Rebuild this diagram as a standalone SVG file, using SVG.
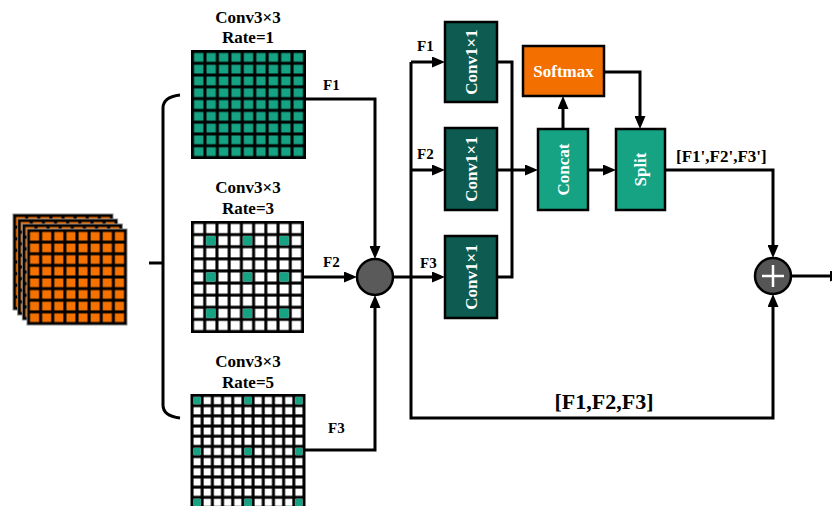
<svg xmlns="http://www.w3.org/2000/svg" width="832" height="506" viewBox="0 0 832 506">
  <style>
    .lbl { font-family: "Liberation Serif", "Times New Roman", serif; font-weight: bold; fill: #000; }
    .wlbl { font-family: "Liberation Serif", "Times New Roman", serif; font-weight: bold; fill: #fff; font-size: 17px; }
    .wire { fill: none; stroke: #000; stroke-width: 3; }
    .arr { marker-end: url(#head); }
    .box { stroke: #000; stroke-width: 2.5; }
    .dark { fill: #0d5b51; }
    .teal { fill: #15a384; }
  </style>
  <defs>
    <marker id="head" markerUnits="userSpaceOnUse" markerWidth="13" markerHeight="11" refX="5" refY="5.5" orient="auto">
      <path d="M0,0 L13,5.5 L0,11 Z" fill="#000"/>
    </marker>
    <!-- cell patterns for the feature grids -->
    <pattern id="pOrange" patternUnits="userSpaceOnUse" x="1.5" y="1.5" width="12.125" height="11.625">
      <rect x="1.5" y="1.5" width="9.125" height="8.625" fill="#f57200"/>
    </pattern>
    <pattern id="pTop" patternUnits="userSpaceOnUse" x="192.5" y="51.5" width="12.444" height="11.778">
      <rect x="1.5" y="1.5" width="9.444" height="8.778" fill="#15a384"/>
    </pattern>
    <pattern id="pMid" patternUnits="userSpaceOnUse" x="192.5" y="222.5" width="12.222" height="12.111">
      <rect x="1.5" y="1.5" width="9.222" height="9.111" fill="#fff"/>
    </pattern>
    <pattern id="pBot" patternUnits="userSpaceOnUse" x="192" y="395.5" width="10.182" height="10.182">
      <rect x="1.5" y="1.5" width="7.182" height="7.182" fill="#fff"/>
    </pattern>
    <g id="layer">
      <rect x="0" y="0" width="100" height="96" fill="#000" stroke="#888" stroke-width="1"/>
      <rect x="1.5" y="1.5" width="97" height="93" fill="url(#pOrange)"/>
    </g>
  </defs>

  <rect width="832" height="506" fill="#fff"/>

  <!-- input feature stack -->
  <g id="input">
    <use href="#layer" x="13" y="214"/>
    <use href="#layer" x="17.7" y="219"/>
    <use href="#layer" x="22.3" y="224"/>
    <use href="#layer" x="27" y="229"/>
  </g>

  <!-- brace splitting into the three branches -->
  <g id="brace">
    <path class="wire" d="M180,95 Q163,97 163,108 V405 Q163,416 180,418"/>
    <path class="wire" d="M149,263 H163"/>
  </g>

  <!-- dilated 3x3 kernels -->
  <g id="conv_rate1">
    <text class="lbl" x="248" y="23" font-size="17" text-anchor="middle">Conv3×3</text>
    <text class="lbl" x="248" y="43" font-size="17" text-anchor="middle">Rate=1</text>
    <rect x="191" y="50" width="115" height="109" fill="#000"/>
    <rect x="192.5" y="51.5" width="112" height="106" fill="url(#pTop)"/>
  </g>

  <g id="conv_rate3">
    <text class="lbl" x="248" y="193" font-size="17" text-anchor="middle">Conv3×3</text>
    <text class="lbl" x="248" y="214" font-size="17" text-anchor="middle">Rate=3</text>
    <rect x="191" y="221" width="113" height="112" fill="#000"/>
    <rect x="192.5" y="222.5" width="110" height="109" fill="url(#pMid)"/>
    <g fill="#15a384">
      <rect x="206.2" y="236.1" width="9.22" height="9.11"/>
      <rect x="242.9" y="236.1" width="9.22" height="9.11"/>
      <rect x="279.6" y="236.1" width="9.22" height="9.11"/>
      <rect x="206.2" y="272.4" width="9.22" height="9.11"/>
      <rect x="242.9" y="272.4" width="9.22" height="9.11"/>
      <rect x="279.6" y="272.4" width="9.22" height="9.11"/>
      <rect x="206.2" y="308.8" width="9.22" height="9.11"/>
      <rect x="242.9" y="308.8" width="9.22" height="9.11"/>
      <rect x="279.6" y="308.8" width="9.22" height="9.11"/>
    </g>
  </g>

  <g id="conv_rate5">
    <text class="lbl" x="248" y="367" font-size="17" text-anchor="middle">Conv3×3</text>
    <text class="lbl" x="248" y="388" font-size="17" text-anchor="middle">Rate=5</text>
    <rect x="190.5" y="394" width="115" height="116" fill="#000"/>
    <rect x="192" y="395.5" width="112" height="112" fill="url(#pBot)"/>
    <g fill="#15a384">
      <rect x="193.5" y="397" width="7.18" height="7.18"/>
      <rect x="244.4" y="397" width="7.18" height="7.18"/>
      <rect x="295.3" y="397" width="7.18" height="7.18"/>
      <rect x="193.5" y="447.9" width="7.18" height="7.18"/>
      <rect x="244.4" y="447.9" width="7.18" height="7.18"/>
      <rect x="295.3" y="447.9" width="7.18" height="7.18"/>
      <rect x="193.5" y="498.8" width="7.18" height="7.18"/>
      <rect x="244.4" y="498.8" width="7.18" height="7.18"/>
      <rect x="295.3" y="498.8" width="7.18" height="7.18"/>
    </g>
  </g>

  <!-- connectors -->
  <g id="connectors">
    <path class="wire arr" d="M306,99 H375 V251"/>
    <path class="wire arr" d="M304,277 H349"/>
    <path class="wire arr" d="M305,450 H375 V303"/>
    <path class="wire arr" d="M393,277 H437"/>
    <path class="wire arr" d="M411,62 V418 H773 V302"/>
    <path class="wire arr" d="M411,62 H437"/>
    <path class="wire arr" d="M411,170 H437"/>
    <path class="wire" d="M497,62 H512 V277 H497"/>
    <path class="wire arr" d="M497,170 H530"/>
    <path class="wire arr" d="M563,129 V104"/>
    <path class="wire arr" d="M604,72 H640 V121"/>
    <path class="wire arr" d="M588,170 H608"/>
    <path class="wire arr" d="M665,170 H773 V250"/>
    <path class="wire arr" d="M791,276 H835"/>

    <text class="lbl" x="323" y="90" font-size="15">F1</text>
    <text class="lbl" x="323" y="267" font-size="15">F2</text>
    <text class="lbl" x="328" y="433" font-size="15">F3</text>
    <text class="lbl" x="417" y="51" font-size="15">F1</text>
    <text class="lbl" x="417" y="159" font-size="15">F2</text>
    <text class="lbl" x="420" y="268" font-size="15">F3</text>
    <text class="lbl" x="676" y="162" font-size="17">[F1',F2',F3']</text>
    <text class="lbl" x="604" y="409" font-size="22" text-anchor="middle">[F1,F2,F3]</text>
  </g>

  <!-- fusion node -->
  <g id="sum">
    <circle cx="375" cy="277" r="18" fill="#5a5a5a" stroke="#000" stroke-width="2.5"/>
  </g>

  <!-- 1x1 projections -->
  <g id="conv1x1_a">
    <rect class="box dark" x="445" y="22" width="52" height="80"/>
    <text class="wlbl" transform="translate(471,62) rotate(-90)" text-anchor="middle" dy="0.35em">Conv1×1</text>
  </g>
  <g id="conv1x1_b">
    <rect class="box dark" x="445" y="128" width="52" height="82"/>
    <text class="wlbl" transform="translate(471,169) rotate(-90)" text-anchor="middle" dy="0.35em">Conv1×1</text>
  </g>
  <g id="conv1x1_c">
    <rect class="box dark" x="445" y="236" width="52" height="82"/>
    <text class="wlbl" transform="translate(471,277) rotate(-90)" text-anchor="middle" dy="0.35em">Conv1×1</text>
  </g>

  <g id="concat">
    <rect class="box teal" x="538" y="129" width="50" height="81"/>
    <text class="wlbl" transform="translate(563,169.5) rotate(-90)" text-anchor="middle" dy="0.35em">Concat</text>
  </g>

  <g id="softmax">
    <rect class="box" x="523" y="46" width="81" height="50" fill="#f36f00"/>
    <text class="wlbl" x="563.5" y="77" text-anchor="middle">Softmax</text>
  </g>

  <g id="split">
    <rect class="box teal" x="616" y="129" width="49" height="81"/>
    <text class="wlbl" transform="translate(640.5,169.5) rotate(-90)" text-anchor="middle" dy="0.35em">Split</text>
  </g>

  <!-- residual addition -->
  <g id="add">
    <circle cx="773" cy="276" r="18" fill="#555" stroke="#000" stroke-width="2.5"/>
    <path d="M762,276 H784 M773,265 V287" stroke="#fff" stroke-width="2.5"/>
  </g>
</svg>
